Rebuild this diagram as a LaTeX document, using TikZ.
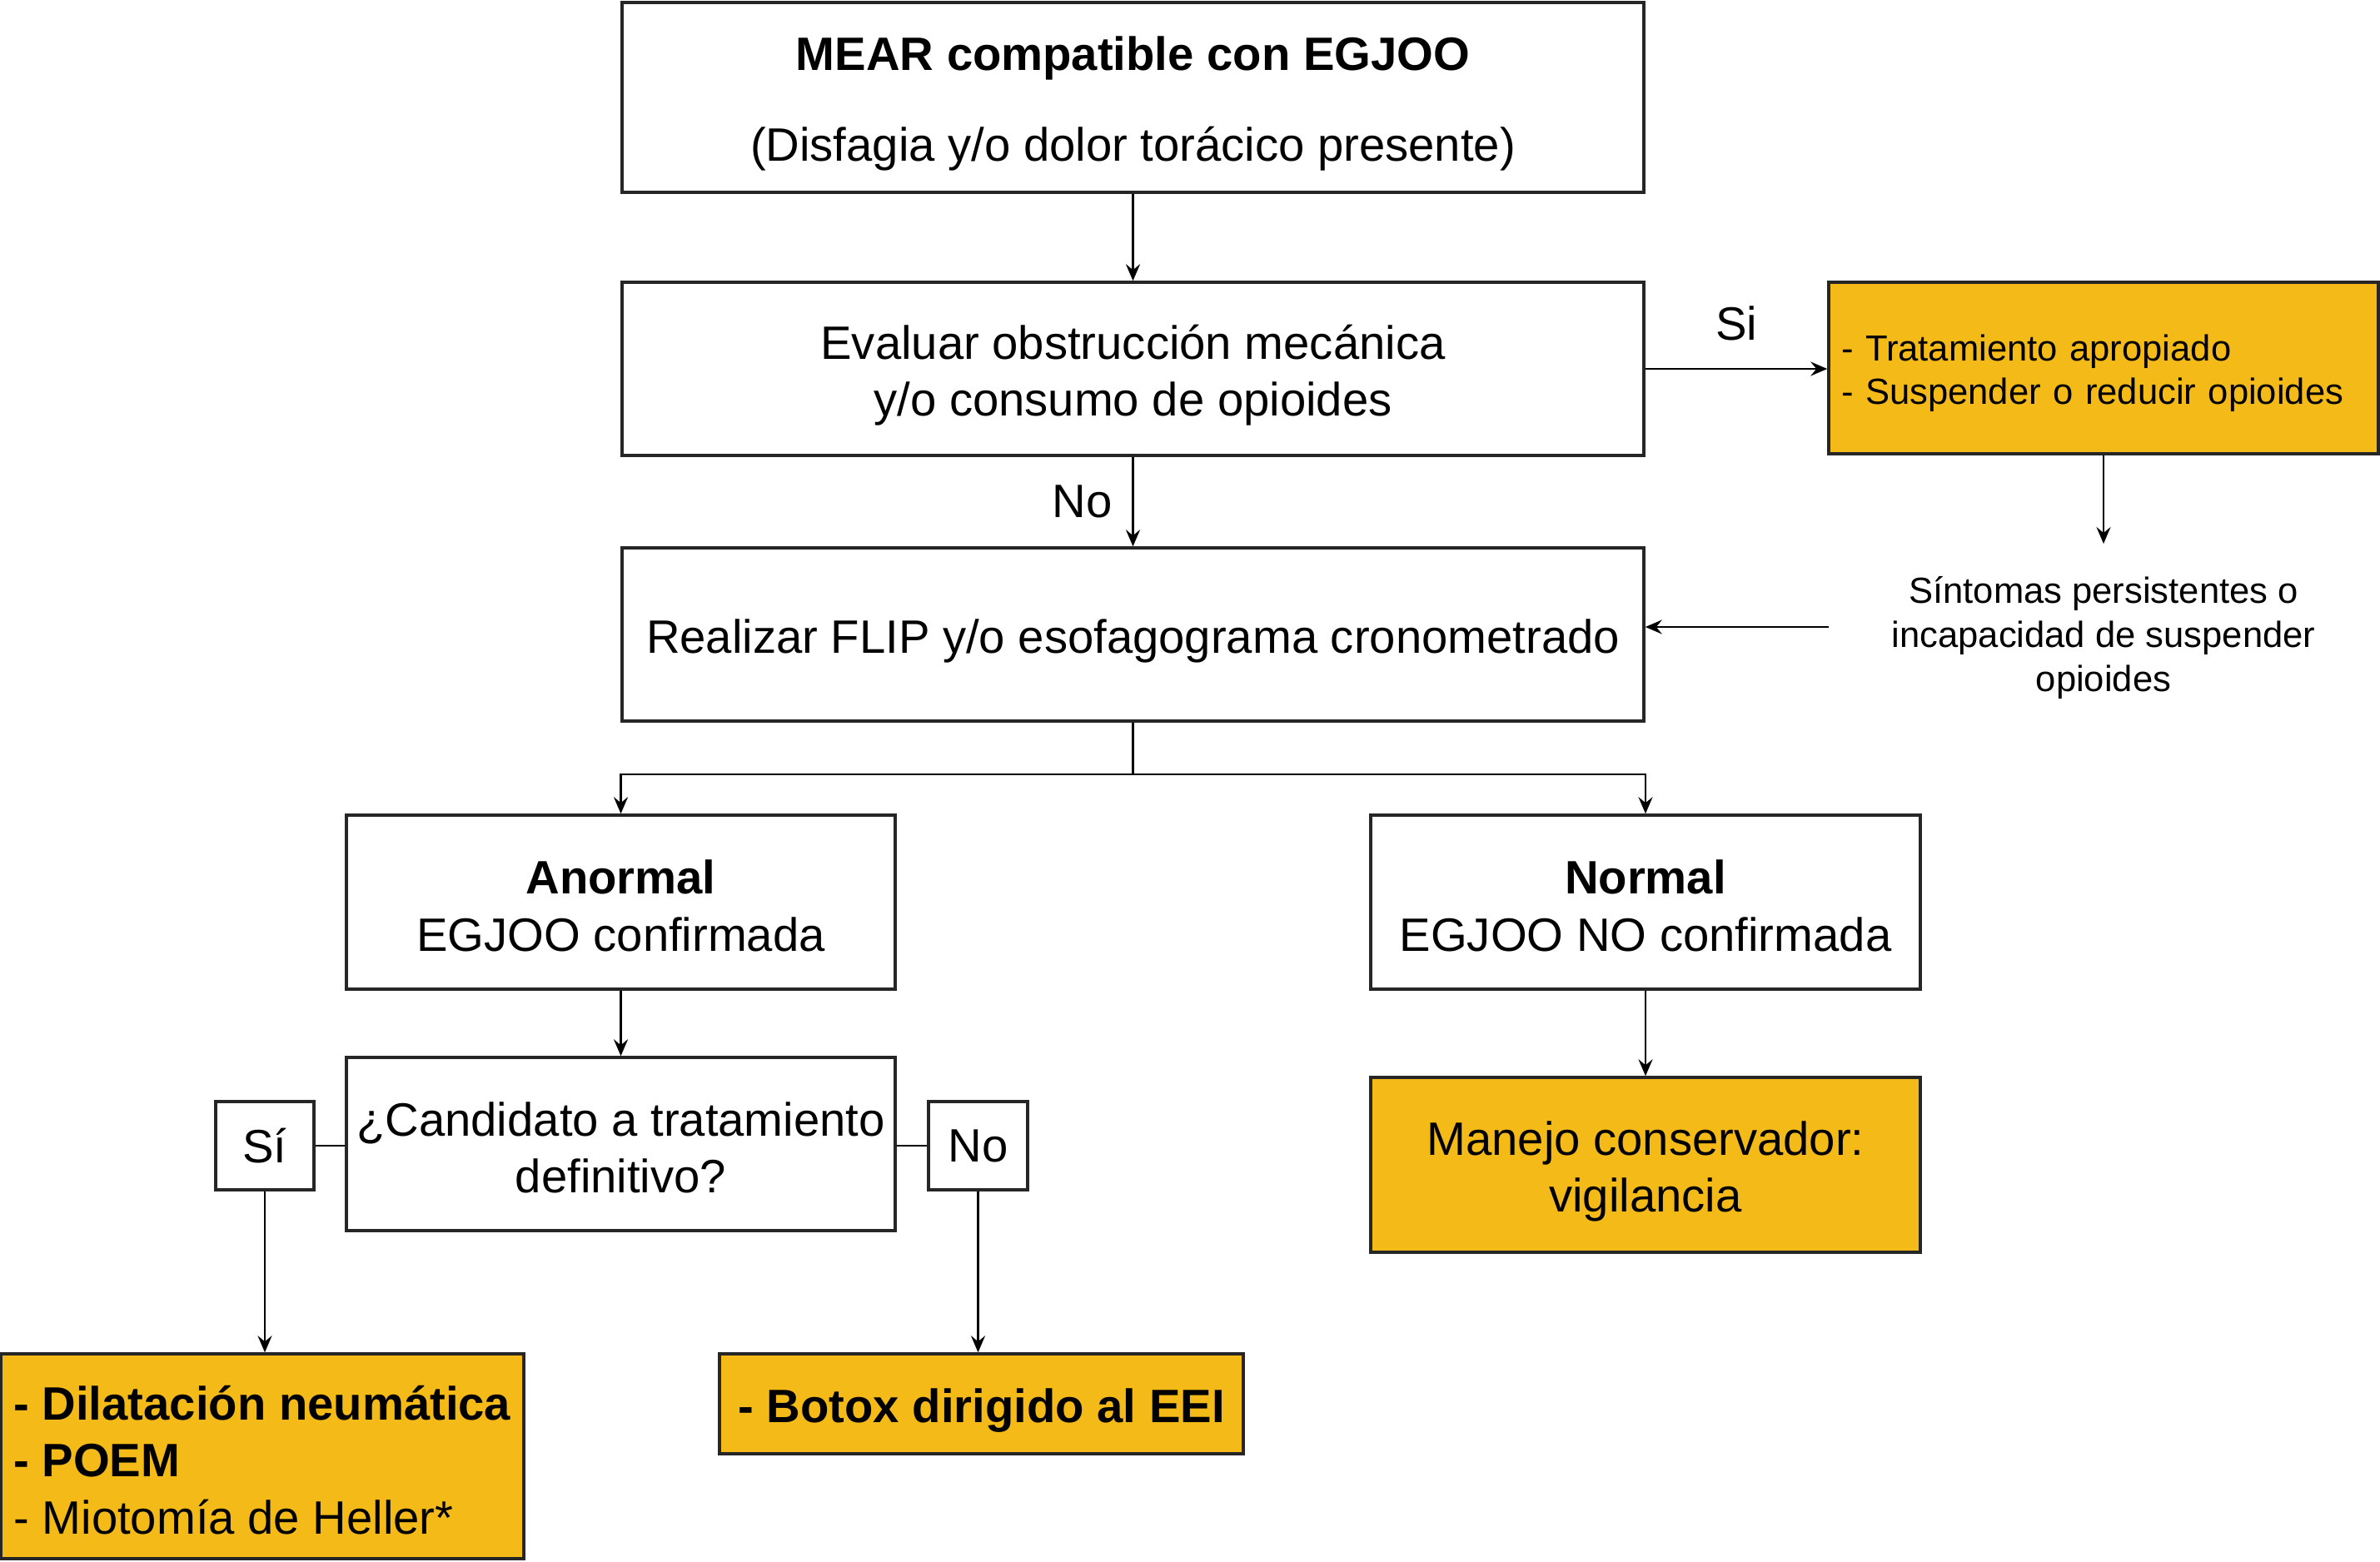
\documentclass[tikz,border=0pt]{standalone}
\usepackage{fontspec}
\setmainfont{Liberation Sans}
\usetikzlibrary{arrows.meta}
\definecolor{ambar}{RGB}{243,186,24}
\newcommand{\topstrut}{\rule{0pt}{16pt}}
\newcommand{\lowstrut}{\rule{0pt}{14.2pt}}

\begin{document}
\begin{tikzpicture}[
    flowbox/.style={draw=black!85, line width=1pt, rectangle, inner sep=0pt,
      align=center, font=\fontsize{16}{19.5}\selectfont},
    hotbox/.style={flowbox, fill=ambar},
    liftsmall/.style={execute at begin node={\rule{0pt}{12.5pt}}},
    link/.style={-{Stealth[length=0.2cm,width=0.17cm,inset=0.07cm]}, line width=0.7pt},
    small/.style={font=\fontsize{12.4}{15}\selectfont}
  ]
  \useasboundingbox (0,0) rectangle (28.58,-18.75);
  % main column
  \node[flowbox, minimum width=12.27cm, minimum height=2.28cm] (mear) at (13.605,-1.17)
    {\topstrut\textbf{MEAR compatible con EGJOO}\\[11.6pt](Disfagia y/o dolor torácico presente)};
  \node[flowbox, minimum width=12.27cm, minimum height=2.08cm] (evaluar) at (13.605,-4.43)
    {\topstrut Evaluar obstrucción mecánica\\y/o consumo de opioides};
  \node[flowbox, minimum width=12.27cm, minimum height=2.08cm] (flip) at (13.605,-7.62)
    {\topstrut Realizar FLIP y/o esofagograma cronometrado};
  % right side loop
  \node[hotbox, small, liftsmall, minimum width=6.60cm, minimum height=2.06cm,
        text width=6.30cm, align=left] (trat) at (25.26,-4.42)
    {- Tratamiento apropiado\\- Suspender o reducir opioides};
  \node[small, align=center] (sint) at (25.26,-7.66)
    {Síntomas persistentes o\\incapacidad de suspender\\opioides};
  \coordinate (sint-top) at (25.26,-6.53);
  \coordinate (sint-left) at (21.96,-7.53);
  % two branches
  \coordinate (split) at (13.605,-9.30);
  \node[flowbox, minimum width=6.59cm, minimum height=2.09cm] (anormal) at (7.455,-10.835)
    {\lowstrut\textbf{Anormal}\\EGJOO confirmada};
  \node[flowbox, minimum width=6.60cm, minimum height=2.09cm] (normal) at (19.76,-10.835)
    {\lowstrut\textbf{Normal}\\EGJOO NO confirmada};
  \node[flowbox, minimum width=6.59cm, minimum height=2.08cm] (cand) at (7.455,-13.74)
    {\lowstrut¿Candidato a tratamiento\\definitivo?};
  \node[flowbox, minimum width=1.18cm, minimum height=1.06cm] (si) at (3.18,-13.76) {Sí};
  \node[flowbox, minimum width=1.19cm, minimum height=1.06cm] (no) at (11.745,-13.76) {No};
  \node[hotbox, minimum width=6.60cm, minimum height=2.10cm] (manejo) at (19.76,-13.99)
    {\topstrut Manejo conservador:\\vigilancia};
  \node[hotbox, minimum width=6.28cm, minimum height=2.46cm, align=left] (dilat) at (3.15,-17.49)
    {\lowstrut\textbf{- Dilatación neumática}\\\textbf{- POEM}\\- Miotomía de Heller*};
  \node[hotbox, minimum width=6.29cm, minimum height=1.20cm] (botox) at (11.785,-16.86)
    {\topstrut\textbf{- Botox dirigido al EEI}};
  \begin{scope}[link]
    \draw (mear) to (evaluar);
    \draw (evaluar) to node[pos=0.5, left=0.12cm, font=\fontsize{16}{19.5}\selectfont] {No} (flip);
    \draw (evaluar.east) to node[above=0.21cm, font=\fontsize{16}{19.5}\selectfont] {Si} (trat.west |- evaluar.east);
    \draw (trat.south) to (sint-top);
    \draw (sint-left) to (sint-left -| flip.east);
    \draw (split) -| (anormal.north);
    \draw (split) -| (normal.north);
    \draw (anormal) to (cand);
    \draw (normal) to (manejo);
    \draw (si.south) to (si.south |- dilat.north);
    \draw (no.south) to (no.south |- botox.north);
  \end{scope}
  \begin{scope}[-, line width=0.7pt]
    \draw (flip.south) to (split);
    \draw (si.east) to (si.east -| cand.west);
    \draw (no.west) to (no.west -| cand.east);
  \end{scope}
\end{tikzpicture}
\end{document}
